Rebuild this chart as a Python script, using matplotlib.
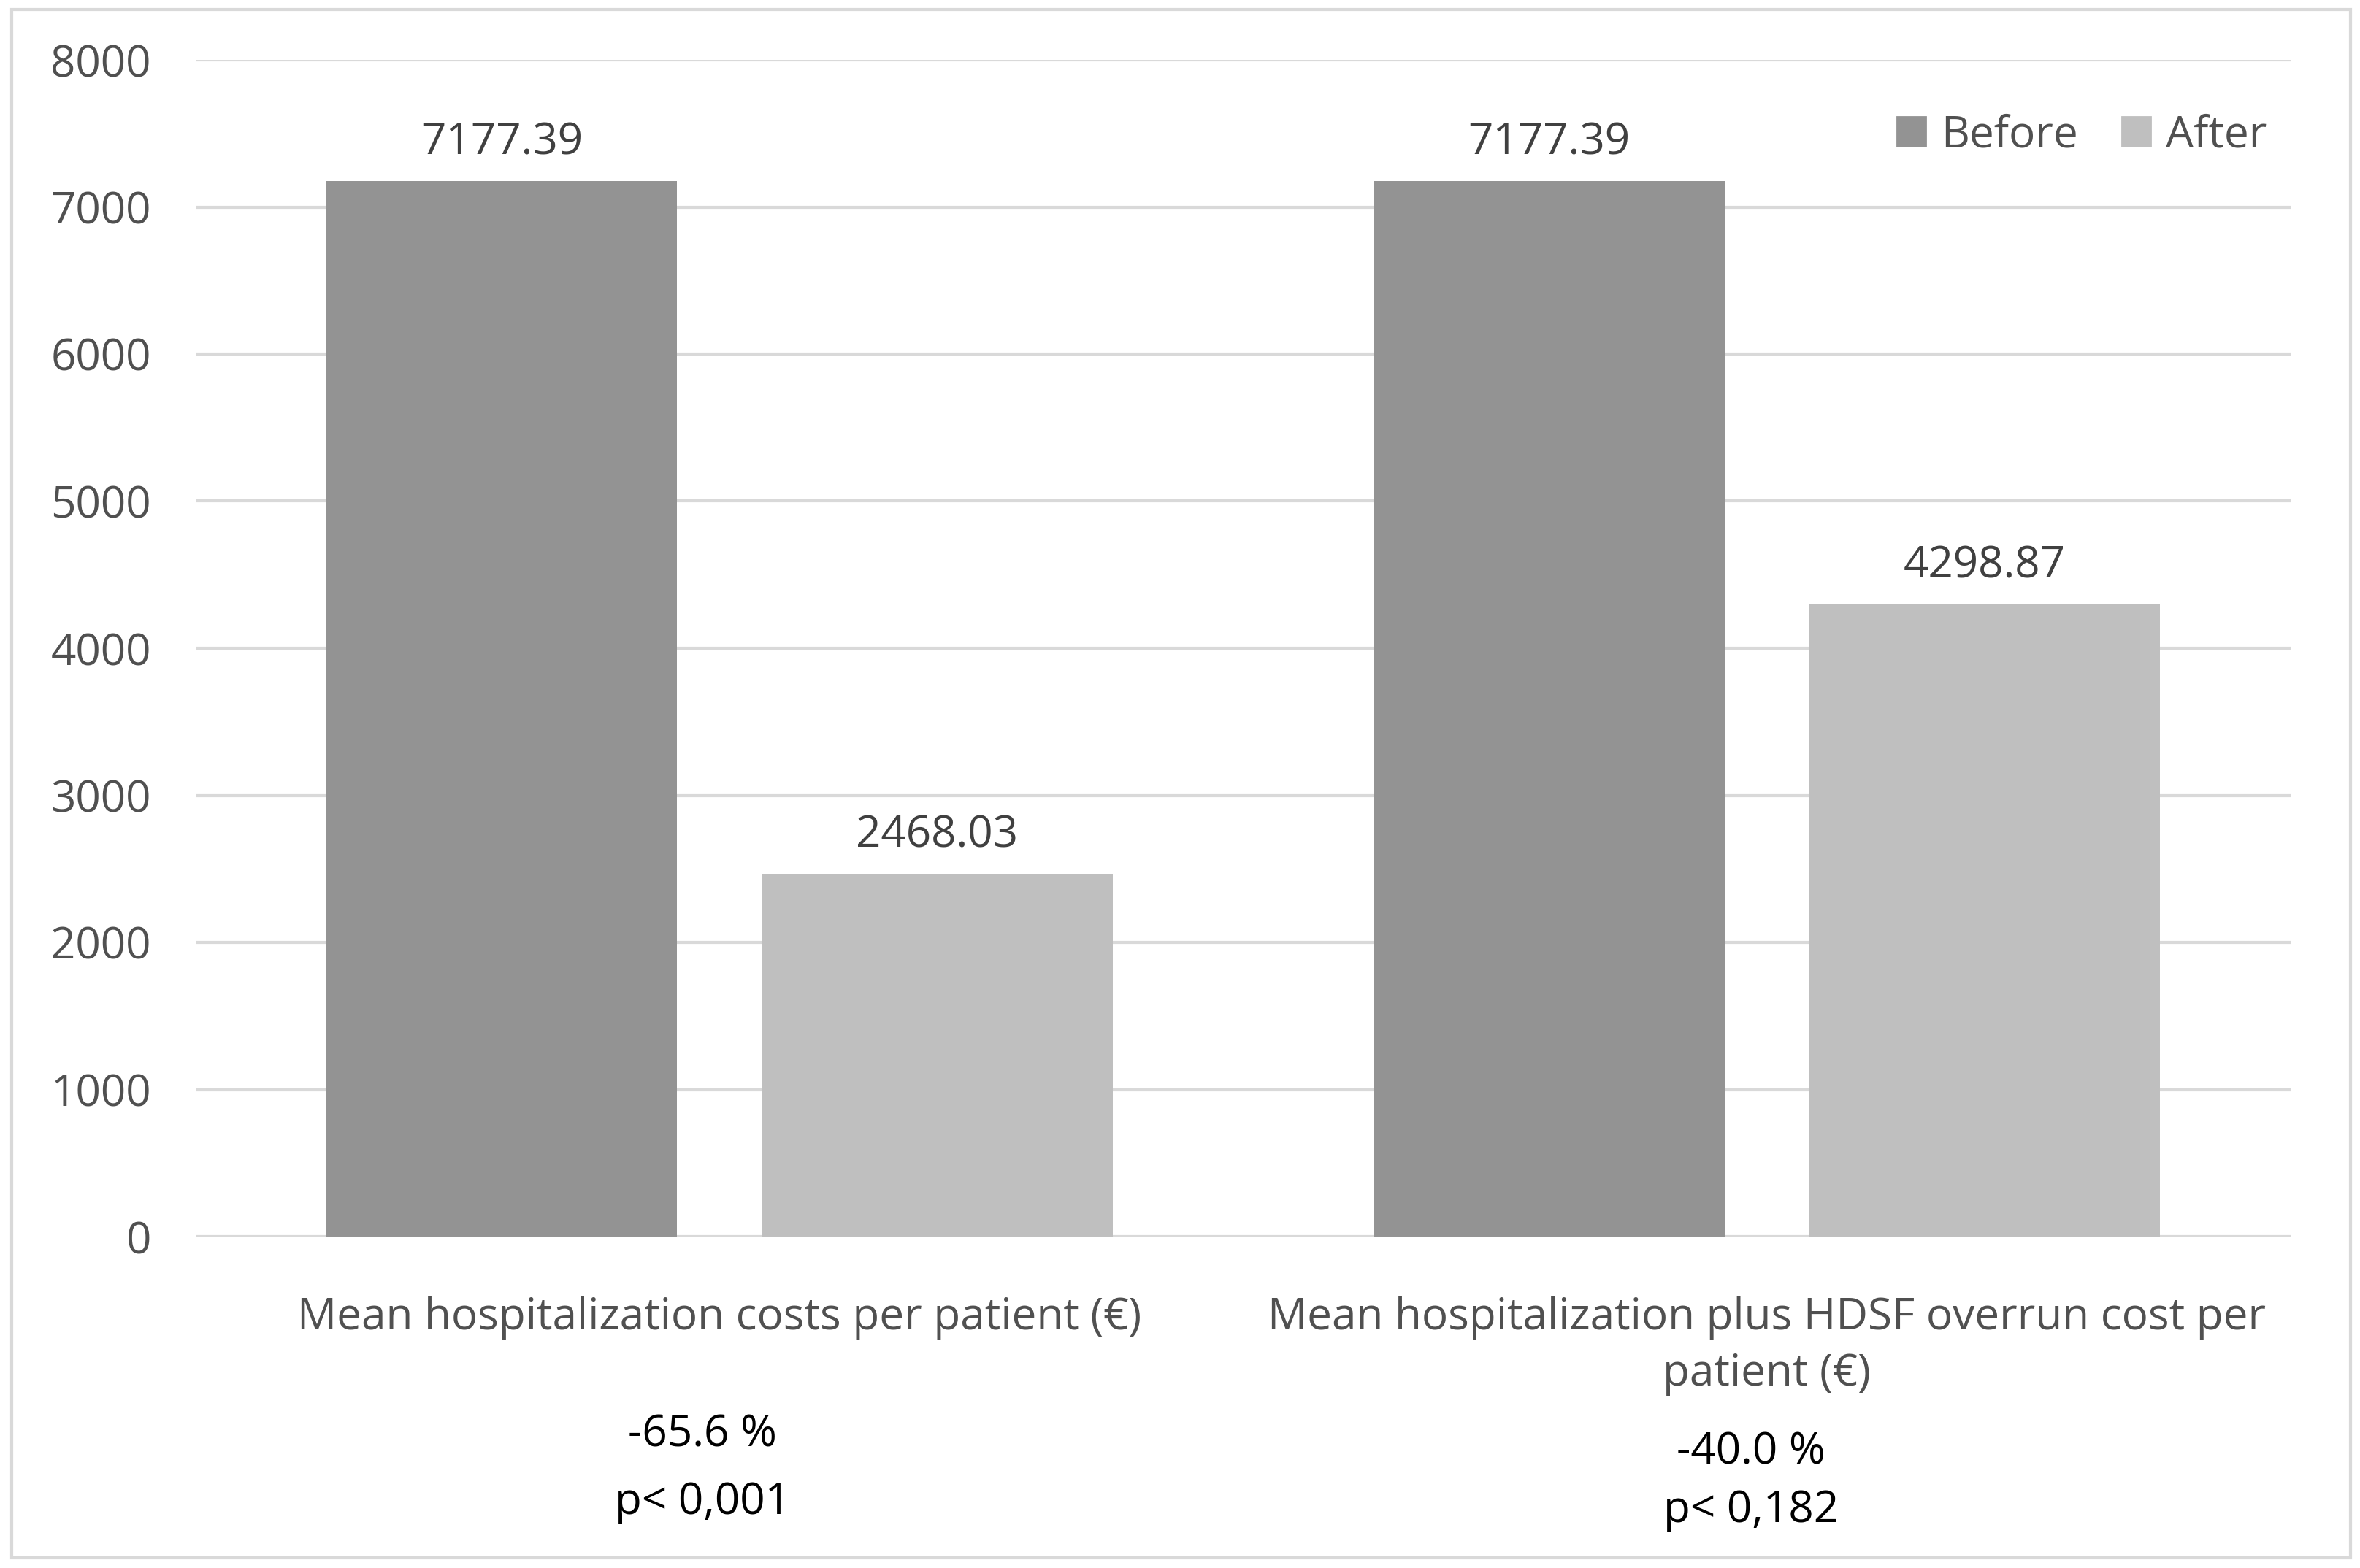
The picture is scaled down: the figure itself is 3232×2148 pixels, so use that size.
import matplotlib.pyplot as plt
import numpy as np
from matplotlib.patches import Rectangle, Patch
from matplotlib.transforms import blended_transform_factory

# data
categories = ['Mean hospitalization costs per patient (\u20ac)',
              'Mean hospitalization plus HDSF overrun cost per\npatient (\u20ac)']
series_names = ['Before', 'After']
before_vals = [7177.39, 7177.39]
after_vals = [2468.03, 4298.87]
change_text = ['-65.6 %', '-40.0 %']
p_text = ['p< 0,001', 'p< 0,182']
y_ticks = [0, 1000, 2000, 3000, 4000, 5000, 6000, 7000, 8000]

plt.rcParams['font.family'] = ['Open Sans', 'DejaVu Sans']

W, H = 3232, 2148
DPI = 200
FS = 21.7
fig = plt.figure(figsize=(W / DPI, H / DPI), dpi=DPI)
ax = fig.add_axes([268 / W, 1 - 1694 / H, (3137 - 268) / W, (1694 - 82) / H])

x = np.arange(len(categories))
bw = 0.335
off = 0.2078
col_before = '#939393'
col_after = '#bfbfbf'
b1 = ax.bar(x - off, before_vals, bw, color=col_before, zorder=3)
b2 = ax.bar(x + off, after_vals, bw, color=col_after, zorder=3)

for bars in (b1, b2):
    for r in bars:
        ax.annotate(f'{r.get_height():.2f}', (r.get_x() + r.get_width() / 2, r.get_height()),
                    xytext=(0, 8), textcoords='offset points', ha='center', va='bottom',
                    fontsize=FS, color='#404040')

ax.set_xlim(-0.5, 1.5)
ax.set_ylim(0, 8000)
ax.set_yticks(y_ticks)
ax.yaxis.grid(True, color='#d9d9d9', linewidth=1.5, zorder=0)
ax.set_axisbelow(True)
for s in ax.spines.values():
    s.set_visible(False)
ax.tick_params(axis='both', length=0, labelsize=FS, labelcolor='#505050')
ax.tick_params(axis='y', pad=22)
ax.set_xticks(x)
ax.set_xticklabels(categories, linespacing=1.38)
ax.tick_params(axis='x', pad=29)

# change / p-value notes under each category
tr = blended_transform_factory(ax.transData, fig.transFigure)
note_x = [-0.016, 0.985]
note_y1 = [1 - 1966 / H, 1 - 1990 / H]
note_y2 = [1 - 2058 / H, 1 - 2069 / H]
for i in range(len(categories)):
    ax.text(note_x[i], note_y1[i], change_text[i], transform=tr, ha='center', va='center',
            fontsize=FS, color='black')
    ax.text(note_x[i], note_y2[i], p_text[i], transform=tr, ha='center', va='center',
            fontsize=FS, color='black')

handles = [Patch(color=col_before), Patch(color=col_after)]
ax.legend(handles, series_names, loc='center right', bbox_to_anchor=(3135 / W, 1 - 185 / H),
          bbox_transform=fig.transFigure, ncol=2, frameon=False, fontsize=FS,
          handlelength=0.65, handleheight=0.65, handletextpad=0.35, columnspacing=1.0,
          borderpad=0, labelcolor='#505050')

# outer chart frame
fig.patches.append(Rectangle((16 / W, 1 - 2134 / H), (3219 - 16) / W, (2134 - 13) / H,
                             transform=fig.transFigure, fill=False, edgecolor='#d9d9d9',
                             linewidth=1.5))

fig.savefig('out.png', dpi=DPI)
